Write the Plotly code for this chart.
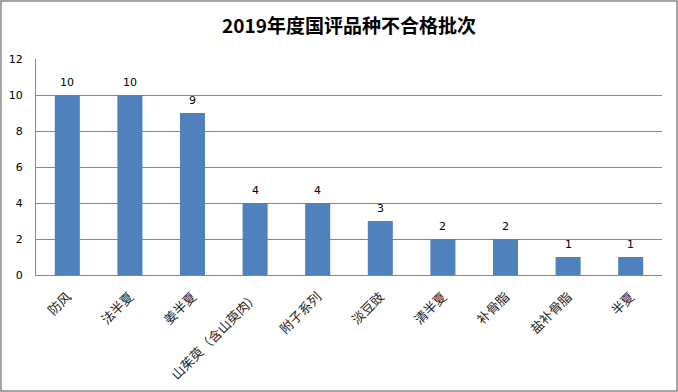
import plotly.graph_objects as go

categories = ["防风", "法半夏", "姜半夏", "山茱萸（含山萸肉）", "附子系列", "淡豆豉", "清半夏", "补骨脂", "盐补骨脂", "半夏"]
values = [10, 10, 9, 4, 4, 3, 2, 2, 1, 1]
title_text = "2019年度国评品种不合格批次"

W, H = 678, 392
ml, mr, mt, mb = 36, 16, 59, 117
pw, ph = W - ml - mr, H - mt - mb

fig = go.Figure(go.Bar(
    x=categories, y=values,
    marker=dict(color="#4F81BD", line=dict(width=0)),
    hoverinfo="skip",
))

for c, v in zip(categories, values):
    fig.add_annotation(x=c, y=v, text=str(v), showarrow=False, yanchor="middle",
                       yshift=13, font=dict(size=11, color="#000000", family="DejaVu Sans"))

fig.update_layout(
    width=W, height=H,
    margin=dict(l=ml, r=mr, t=mt, b=mb, autoexpand=False),
    paper_bgcolor="white", plot_bgcolor="white",
    bargap=0.6,
    showlegend=False,
    title=dict(text="<b>" + title_text + "</b>", x=0.5, xanchor="center", xref="paper",
               yref="container", y=1 - 26 / H, yanchor="middle",
               font=dict(size=19, color="#000000", family="Noto Sans CJK SC")),
    xaxis=dict(tickangle=-45, tickfont=dict(size=13, color="#222222", family="Noto Sans CJK SC"),
               showline=True, linecolor="#868686", linewidth=1, ticks="", showgrid=False,
               automargin=False, ticklabelstandoff=8),
    yaxis=dict(range=[0, 12], dtick=2, showgrid=True, gridcolor="#868686", gridwidth=1,
               showline=True, linecolor="#868686", linewidth=1, zeroline=False, ticks="",
               tickfont=dict(size=11, color="#000000", family="DejaVu Sans"),
               automargin=False, ticklabelstandoff=10),
    shapes=[dict(type="rect", xref="paper", yref="paper",
                 x0=-(ml - 1) / pw, x1=1 + (mr - 1) / pw,
                 y0=-(mb - 1) / ph, y1=1 + (mt - 1) / ph,
                 line=dict(color="#868686", width=1.5))],
)

fig.write_html("out.html", config={"displayModeBar": False},
               post_script="document.body.style.margin='0';document.body.style.overflow='hidden';")
